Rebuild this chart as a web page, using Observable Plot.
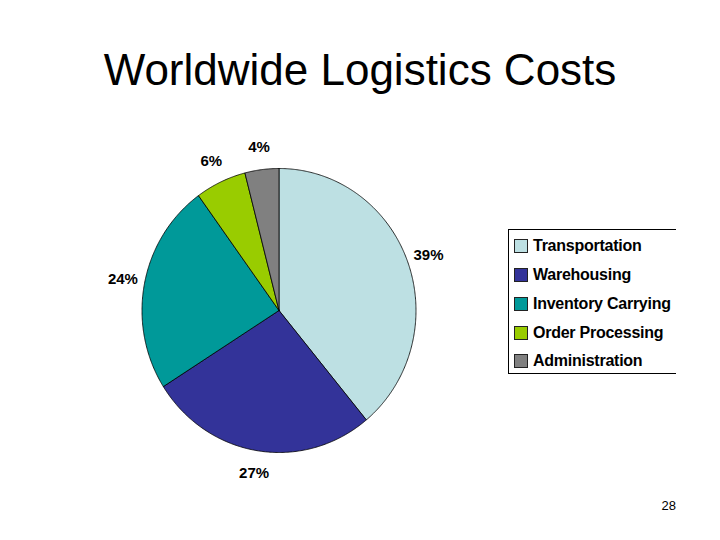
<!DOCTYPE html>
<html>
<head>
<meta charset="utf-8">
<script src="https://cdn.jsdelivr.net/npm/d3@7"></script>
<script src="https://cdn.jsdelivr.net/npm/@observablehq/plot@0.6"></script>
<style>
  html, body { margin: 0; padding: 0; background: #fff; }
  body { width: 720px; height: 540px; position: relative; overflow: hidden; font-family: "Liberation Sans", Arial, sans-serif; }
  #title { position: absolute; left: 0; width: 720px; top: 48px; text-align: center; font-size: 44px; line-height: 44px; color: #000; }
  #chart { position: absolute; left: 0; top: 0; }
  #legend { position: absolute; left: 508px; top: 229px; width: 168px; height: 145px; border: 1px solid #000; border-right: none; box-sizing: border-box; padding-top: 2px; }
  .row { height: 28.75px; display: flex; align-items: center; padding-left: 5px; font-weight: bold; font-size: 16px; letter-spacing: -0.25px; white-space: nowrap; }
  .sw { width: 12px; height: 12px; border: 1px solid #222; margin-right: 5px; flex: none; }
  #page { position: absolute; right: 44px; top: 498px; font-size: 13px; }
</style>
</head>
<body>
<div id="title">Worldwide Logistics Costs</div>
<div id="chart"></div>
<div id="legend"></div>
<div id="page">28</div>
<script>
const categories = ["Transportation", "Warehousing", "Inventory Carrying", "Order Processing", "Administration"];
const values = [39, 27, 24, 6, 4];
const colors = ["#BDE0E3", "#333399", "#009999", "#99CC00", "#808080"];
const labels = ["39%", "27%", "24%", "6%", "4%"];

const total = d3.sum(values);
const pts = [];
const lab = [];
let acc = 0;
categories.forEach((c, i) => {
  const a0 = acc / total * 2 * Math.PI;
  acc += values[i];
  const a1 = acc / total * 2 * Math.PI;
  pts.push({name: c, x: 0, y: 0});
  const n = Math.max(2, Math.ceil((a1 - a0) / (Math.PI / 360)));
  for (let k = 0; k <= n; k++) {
    const a = a0 + (a1 - a0) * k / n;
    pts.push({name: c, x: Math.sin(a), y: -Math.cos(a)});
  }
  pts.push({name: c, x: 0, y: 0});
  const am = (a0 + a1) / 2;
  lab.push({text: labels[i], x: 1.16 * Math.sin(am), y: -1.16 * Math.cos(am)});
});

const plot = Plot.plot({
  width: 720,
  height: 540,
  x: {domain: [-1, 1], range: [141.5, 415.5], axis: null},
  y: {domain: [-1, 1], range: [168, 452], axis: null},
  color: {domain: categories, range: colors},
  style: {background: "transparent", overflow: "visible"},
  marks: [
    Plot.line(pts, {x: "x", y: "y", z: "name", fill: "name", stroke: "#000", strokeWidth: 0.8, curve: "linear"}),
    Plot.text(lab, {x: "x", y: "y", text: "text", fontSize: 15, fontWeight: "bold", fontFamily: "Liberation Sans, Arial, sans-serif", fill: "#000", letterSpacing: "-0.6px"})
  ]
});
document.getElementById("chart").appendChild(plot);

const legend = document.getElementById("legend");
categories.forEach((c, i) => {
  const row = document.createElement("div");
  row.className = "row";
  const sw = document.createElement("span");
  sw.className = "sw";
  sw.style.background = colors[i];
  row.appendChild(sw);
  const t = document.createElement("span");
  t.textContent = c;
  row.appendChild(t);
  legend.appendChild(row);
});
</script>
</body>
</html>
